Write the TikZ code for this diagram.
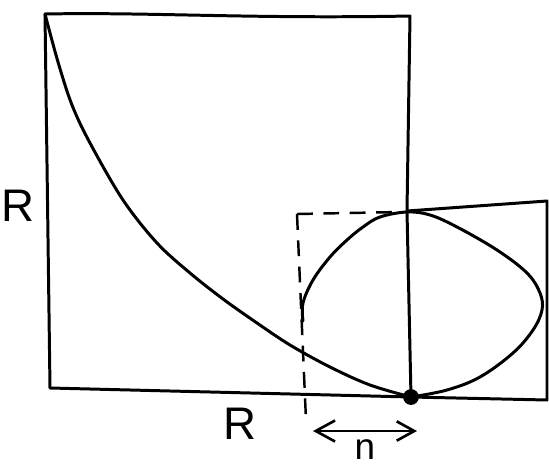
\documentclass[tikz,border=0pt]{standalone}
\usepackage{fontspec}
\setmainfont{Liberation Sans}
\usetikzlibrary{arrows.meta}
\begin{document}
\begin{tikzpicture}[x=0.02cm,y=-0.02cm,
  ink/.style={line width=1.7pt,line cap=round,line join=round},
  dashink/.style={line width=1.4pt,dash pattern=on 9pt off 6pt},
  lab/.style={font=\fontsize{26}{30}\selectfont,inner sep=0pt},
  smalllab/.style={font=\fontsize{21}{24}\selectfont,inner sep=0pt}]
\useasboundingbox (0,0) rectangle (549,471);
% corners
\coordinate (TL) at (45,14);
\coordinate (TR) at (410,16);
\coordinate (BL) at (50,388);
\coordinate (P) at (411,397);
\coordinate (ST) at (407,211);
\coordinate (SR) at (547,201);
\coordinate (SB) at (547,400);
\coordinate (DC) at (297,214);
\coordinate (DB) at (306,420);
% big square
\draw[ink] (TL) .. controls (150,12) and (250,19) .. (TR) -- (ST) -- (P) -- (BL) -- cycle;
% small rectangle
\draw[ink] (ST) -- (SR) -- (SB) -- (P);
% dashed guides
\draw[dashink] (DC) -- (400,212);
\draw[dashink] (DC) -- (DB);
% brachistochrone-like curve
\draw[ink] plot[smooth,tension=0.55] coordinates {(45,14) (58,62) (72,105) (90,143) (123,200) (157,243) (190,273) (223,299) (257,323) (290,345) (330,367) (370,385) (411,397)};
% loop
\draw[ink] plot[smooth,tension=0.6] coordinates {(303,321) (303,303) (313,280) (330,257) (347,240) (363,227) (380,217) (407,212) (430,215) (457,227) (497,250) (527,273) (540,293) (542,310) (533,330) (513,353) (480,377) (447,390) (411,397)};
% point
\node[circle,fill=black,inner sep=0pt,minimum size=9pt] (dot) at (P) {};
% arrow n
\coordinate (A1) at (313,431);
\coordinate (A2) at (417,431);
\draw[line width=1.5pt,{Straight Barb[length=11pt,width=12pt]}-{Straight Barb[length=10pt,width=11pt]}] (A1) -- (A2);
% labels
\node[lab] (Rleft) at (18,206) {R};
\node[lab] (Rbot) at (240,424) {R};
\node[smalllab] (n) at (365,450) {n};
\end{tikzpicture}
\end{document}
